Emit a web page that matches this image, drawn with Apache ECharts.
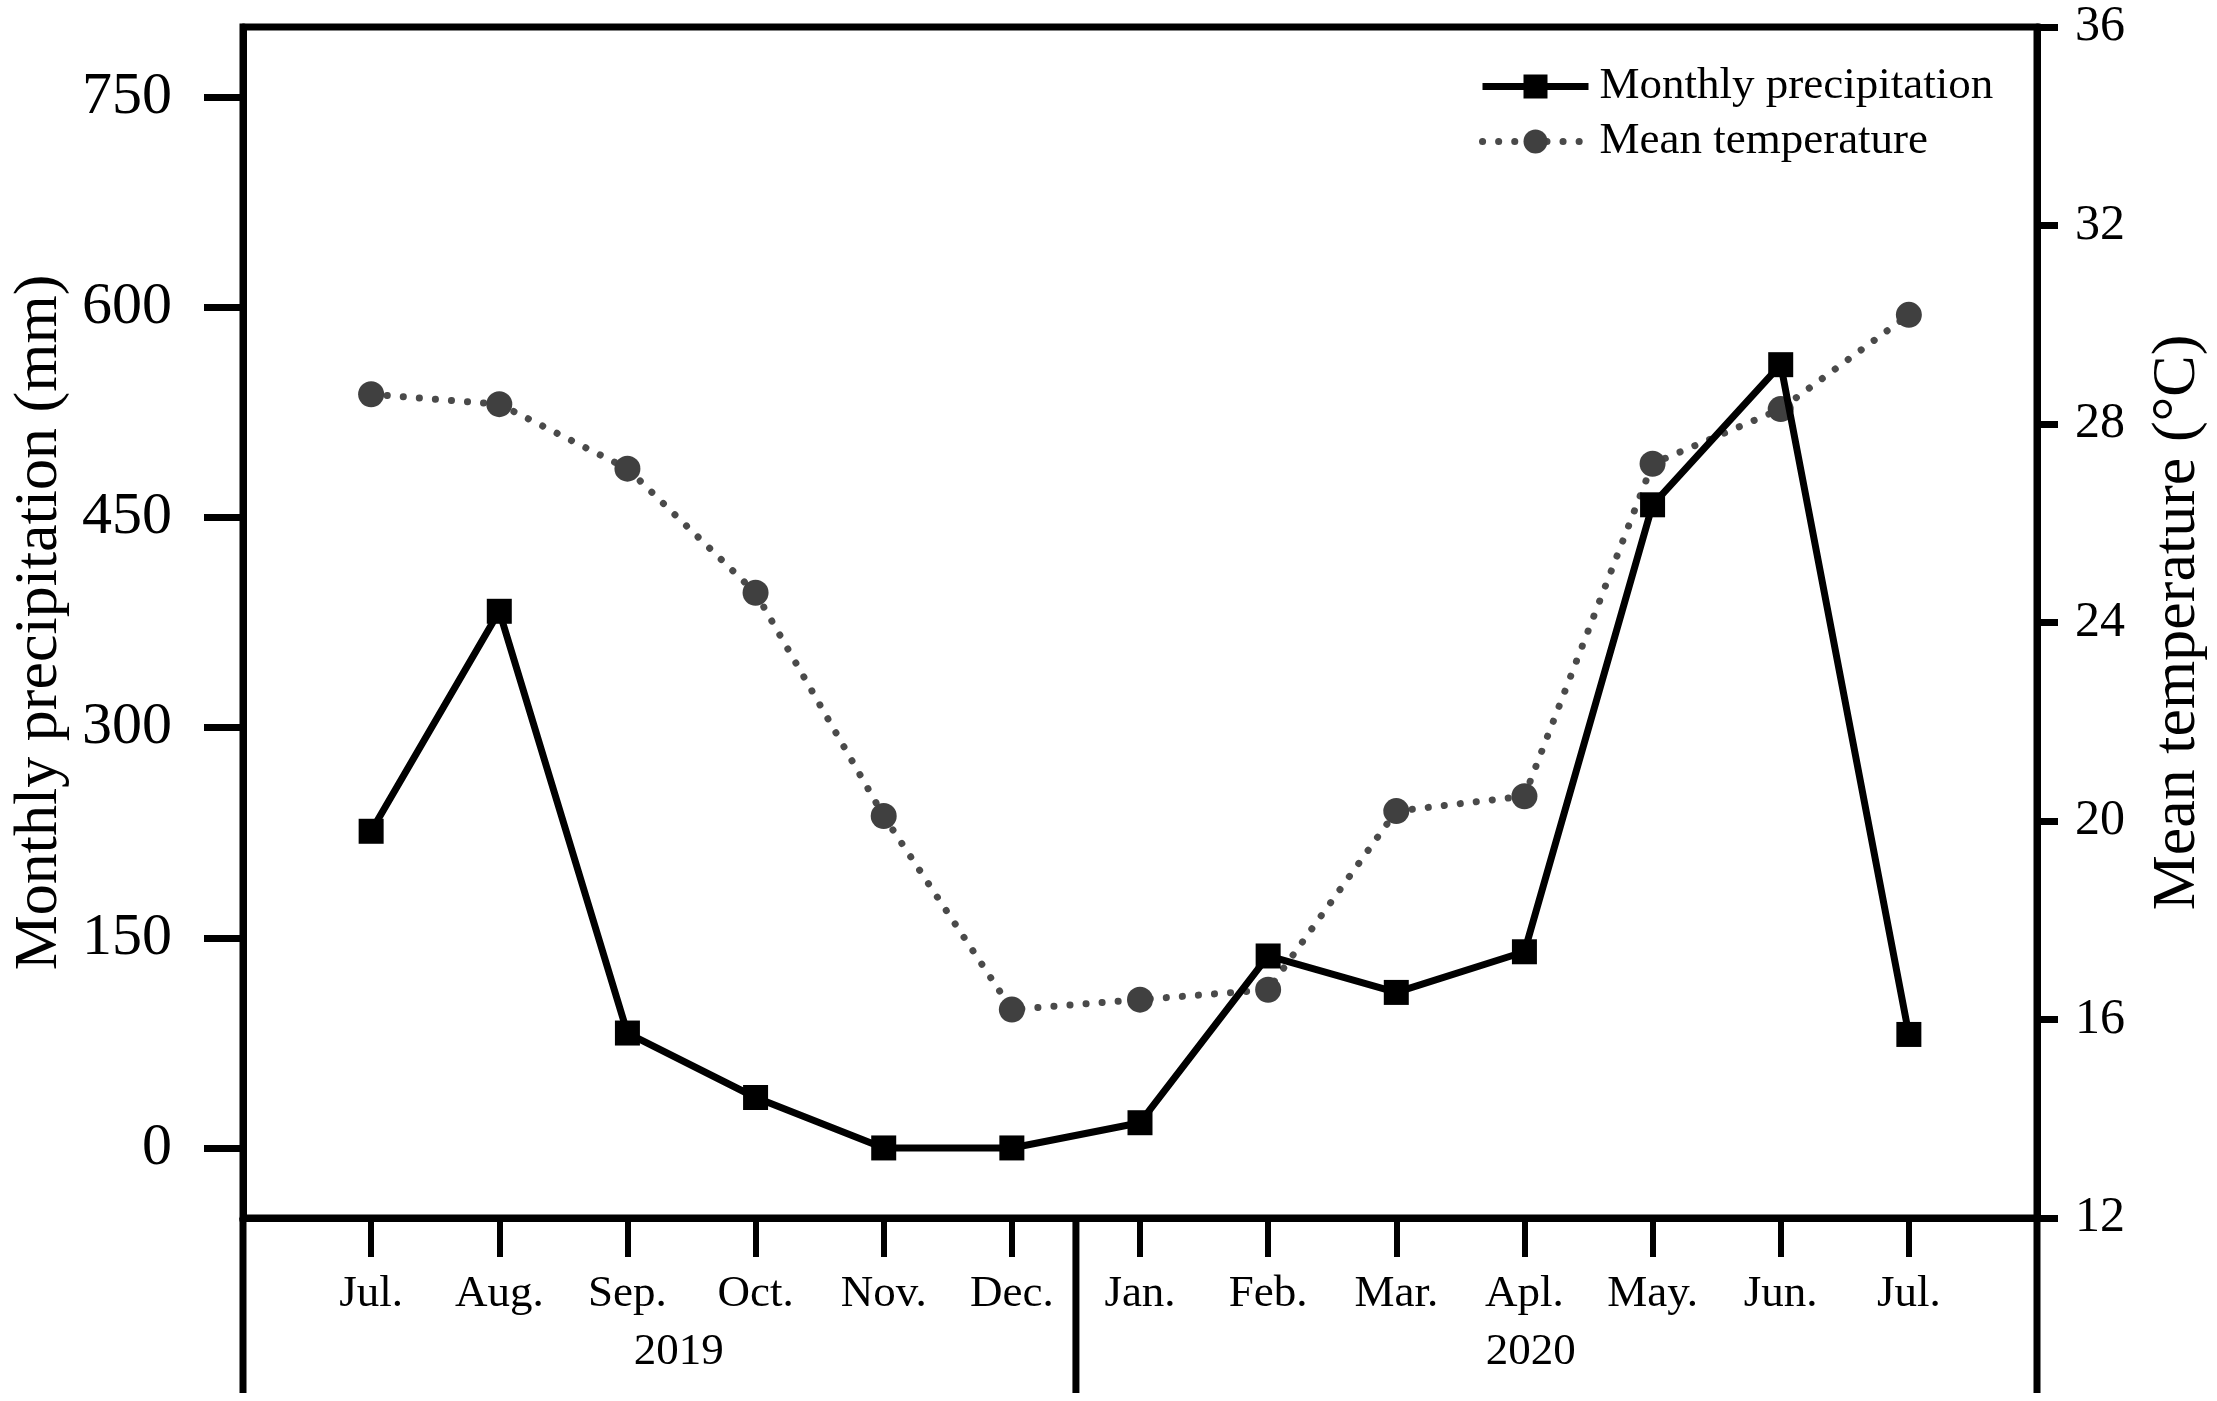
<!DOCTYPE html>
<html>
<head>
<meta charset="utf-8">
<title>Monthly precipitation and mean temperature</title>
<script src="https://cdn.jsdelivr.net/npm/echarts@6/dist/echarts.min.js"></script>
<style>
  html, body { margin: 0; padding: 0; background: #fff; }
  #chart { width: 2217px; height: 1401px; }
</style>
</head>
<body>
<div id="chart"></div>
<script>
// months Jul 2019 .. Jul 2020
var months = ['Jul.', 'Aug.', 'Sep.', 'Oct.', 'Nov.', 'Dec.', 'Jan.', 'Feb.', 'Mar.', 'Apl.', 'May.', 'Jun.', 'Jul.'];
var precipitation = [226, 383, 82, 36, 0, 0, 18, 137, 111, 140, 459, 559, 81];
var temperature = [28.6, 28.4, 27.1, 24.6, 20.1, 16.2, 16.4, 16.6, 20.2, 20.5, 27.2, 28.3, 30.2];
var precipTicks = [0, 150, 300, 450, 600, 750];
var years = ['2019', '2020'];

var FONT = '"Liberation Serif", "Times New Roman", serif';
var DOTS = [0.1, 16];

// empty slot at both ends so the points sit one step in from the frame
var xCats = [''].concat(months, ['']);
var pad = function (arr) { return [null].concat(arr, [null]); };

var chart = echarts.init(document.getElementById('chart'));

var option = {
  animation: false,
  backgroundColor: '#fff',
  textStyle: { fontFamily: FONT, color: '#000' },
  grid: {
    left: 243, right: 178, top: 27, bottom: 183,
    show: true, borderColor: '#000', borderWidth: 7, backgroundColor: 'transparent'
  },
  legend: {
    left: 1479, top: 64,
    orient: 'vertical',
    padding: 0,
    itemGap: 10,
    itemWidth: 106,
    itemHeight: 30,
    textStyle: { fontFamily: FONT, fontSize: 45, color: '#000', padding: [0, 0, 0, 6] },
    data: [
      { name: 'Monthly precipitation', lineStyle: { width: 7, color: '#000', type: 'solid' } },
      { name: 'Mean temperature', lineStyle: { width: 7, color: '#4a4a4a', type: DOTS, cap: 'round' } }
    ]
  },
  xAxis: {
    type: 'category',
    data: xCats,
    boundaryGap: false,
    axisLine: { show: true, onZero: false, lineStyle: { color: '#000', width: 7 } },
    axisTick: {
      show: true, length: 39,
      interval: function (i) { return i > 0 && i < xCats.length - 1; },
      lineStyle: { color: '#000', width: 6 }
    },
    axisLabel: {
      interval: 0, margin: 54,
      fontFamily: FONT, fontSize: 45, color: '#000'
    },
    splitLine: { show: false }
  },
  yAxis: [
    {
      type: 'value',
      min: -50, max: 800,
      name: 'Monthly precipitation (mm)',
      nameLocation: 'middle',
      nameGap: 172,
      nameTextStyle: { fontFamily: FONT, fontSize: 62, color: '#000' },
      axisLine: { show: true, lineStyle: { color: '#000', width: 7 } },
      axisTick: { show: true, length: 39, customValues: precipTicks, lineStyle: { color: '#000', width: 7 } },
      axisLabel: { customValues: precipTicks, margin: 71, fontFamily: FONT, fontSize: 60, color: '#000' },
      splitLine: { show: false }
    },
    {
      type: 'value',
      min: 12, max: 36, interval: 4,
      position: 'right',
      name: 'Mean temperature (°C)',
      nameLocation: 'middle',
      nameGap: 110,
      nameTextStyle: { fontFamily: FONT, fontSize: 62, color: '#000' },
      axisLine: { show: true, lineStyle: { color: '#000', width: 7 } },
      axisTick: { show: true, length: 21, lineStyle: { color: '#000', width: 7 } },
      axisLabel: { margin: 38, fontFamily: FONT, fontSize: 50, color: '#000' },
      splitLine: { show: false }
    }
  ],
  series: [
    {
      name: 'Mean temperature',
      type: 'line',
      yAxisIndex: 1,
      data: pad(temperature),
      symbol: 'circle',
      symbolSize: 26,
      itemStyle: { color: '#404040' },
      lineStyle: { color: '#4a4a4a', width: 7, type: DOTS, cap: 'round' },
      z: 2
    },
    {
      name: 'Monthly precipitation',
      type: 'line',
      yAxisIndex: 0,
      data: pad(precipitation),
      symbol: 'rect',
      symbolSize: 25,
      itemStyle: { color: '#000' },
      lineStyle: { color: '#000', width: 7 },
      z: 3
    }
  ]
};

chart.setOption(option);

// lower frame below the axis with the year groups
var px = function (i) { return chart.convertToPixel({ xAxisIndex: 0 }, i); };
var step = px(2) - px(1);
var left = px(0), right = px(xCats.length - 1);
var divider = (px(6) + px(7)) / 2;
var axisY = chart.convertToPixel({ yAxisIndex: 1 }, 12);
var bottomY = 1393;
var yearX = [px(3) + 0.4 * step, px(10) + 0.05 * step];

var frameStyle = { stroke: '#000', lineWidth: 7 };
chart.setOption({
  graphic: [
    { type: 'line', shape: { x1: left, y1: axisY, x2: left, y2: bottomY }, style: frameStyle },
    { type: 'line', shape: { x1: right, y1: axisY, x2: right, y2: bottomY }, style: frameStyle },
    { type: 'line', shape: { x1: divider, y1: axisY, x2: divider, y2: bottomY }, style: frameStyle },
    {
      type: 'text', x: yearX[0], y: 1352,
      style: { text: years[0], font: '45px ' + FONT, fill: '#000', textAlign: 'center', textVerticalAlign: 'middle' }
    },
    {
      type: 'text', x: yearX[1], y: 1352,
      style: { text: years[1], font: '45px ' + FONT, fill: '#000', textAlign: 'center', textVerticalAlign: 'middle' }
    }
  ]
});
</script>
</body>
</html>
